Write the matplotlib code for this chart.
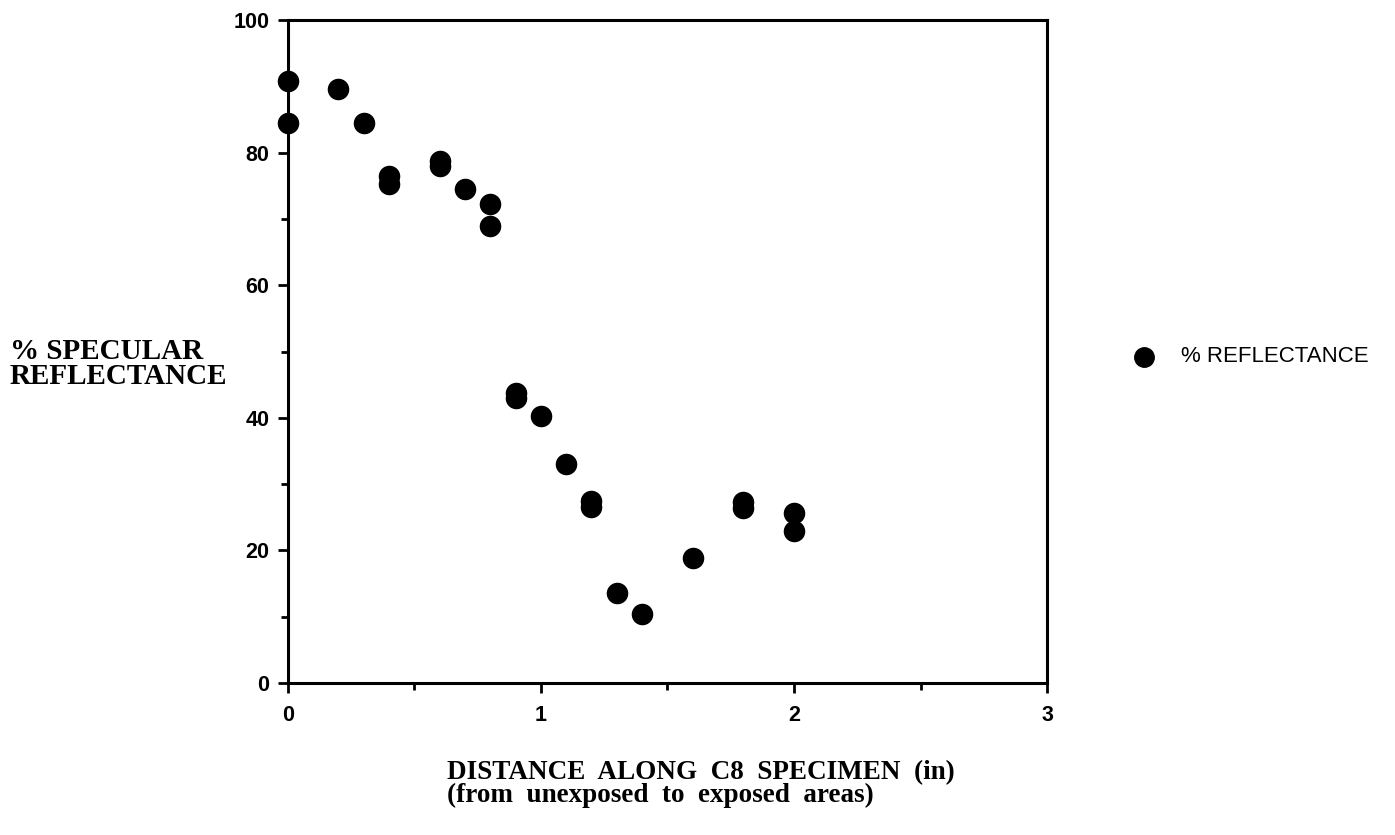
import numpy as np
import matplotlib.pyplot as plt
from matplotlib.ticker import MultipleLocator

# values
distance = [0.0, 0.0, 0.2, 0.3, 0.4, 0.4, 0.6, 0.6, 0.7, 0.8, 0.8,
            0.9, 0.9, 1.0, 1.1, 1.2, 1.2, 1.3, 1.4, 1.6, 1.8, 1.8, 2.0, 2.0]
reflectance = [90.8, 84.5, 89.6, 84.4, 76.5, 75.3, 78.8, 78.0, 74.5, 72.2, 68.9,
               43.8, 43.0, 40.3, 33.0, 27.5, 26.5, 13.6, 10.4, 18.9, 27.3, 26.4, 25.7, 23.0]

x_ticks = [0, 1, 2, 3]
y_ticks = [0, 20, 40, 60, 80, 100]

fig = plt.figure(figsize=(13.95, 8.35), dpi=100)
ax = fig.add_axes([0.2062, 0.182, 0.5445, 0.794])

ax.plot(distance, reflectance, 'o', color='black', markersize=14.5,
        linestyle='none', clip_on=False)

ax.set_xlim(0, 3)
ax.set_ylim(0, 100)
ax.set_xticks(x_ticks)
ax.set_yticks(y_ticks)
ax.xaxis.set_minor_locator(MultipleLocator(0.5))
ax.yaxis.set_minor_locator(MultipleLocator(10))

for s in ax.spines.values():
    s.set_linewidth(2.2)
ax.tick_params(which='both', direction='out', width=2.0)
ax.tick_params(which='major', length=7)
ax.tick_params(which='minor', length=5)
ax.tick_params(axis='y', which='major', pad=6)
ax.tick_params(axis='x', which='major', pad=9)
for lab in ax.get_xticklabels() + ax.get_yticklabels():
    lab.set_fontfamily('Liberation Sans')
    lab.set_fontweight('bold')
    lab.set_fontsize(15.5)

serif = dict(family='Liberation Serif', fontweight='bold')
fig.text(0.007, 1 - 364 / 835, '% SPECULAR\nREFLECTANCE', ha='left', va='center',
         linespacing=0.86, fontsize=21, **serif)
fig.text(447 / 1395, 1 - 784 / 835,
         'DISTANCE  ALONG  C8  SPECIMEN  (in)\n(from  unexposed  to  exposed  areas)',
         ha='left', va='center', linespacing=0.92, fontsize=19.5, **serif)

# legend
fig.lines.append(plt.Line2D([1144 / 1395], [1 - 357 / 835], marker='o', color='black',
                            markersize=14, linestyle='none', transform=fig.transFigure))
fig.text(1181 / 1395, 1 - 357 / 835, '% REFLECTANCE', ha='left', va='center',
         family='Liberation Sans', fontsize=16)

fig.savefig('out.png', dpi=100)
